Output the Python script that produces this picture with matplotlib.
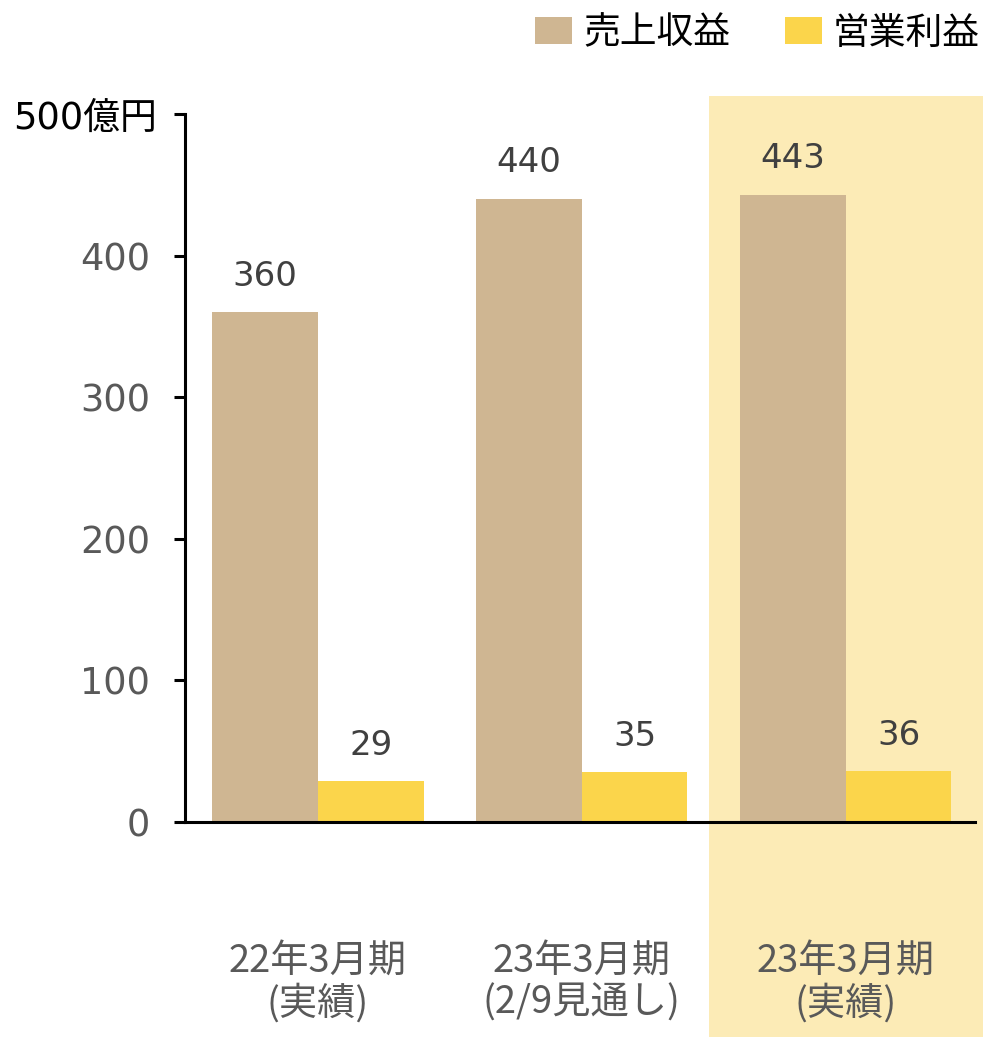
import matplotlib
matplotlib.use("Agg")
import matplotlib.pyplot as plt
import matplotlib.transforms as mtransforms
from matplotlib.patches import Rectangle
import numpy as np

plt.rcParams['font.family'] = ['Noto Sans CJK JP', 'DejaVu Sans']
NUM_FONT = ['DejaVu Sans', 'Noto Sans CJK JP']

periods = ["22年3月期\n(実績)", "23年3月期\n(2/9見通し)", "23年3月期\n(実績)"]
revenue = [360, 440, 443]
op_income = [29, 35, 36]
series_names = ["売上収益", "営業利益"]
yticks = [0, 100, 200, 300, 400, 500]
ytick_labels = ["0", "100", "200", "300", "400", "500億円"]

brown = "#CFB692"
yellow = "#FBD54B"
highlight = "#FCEBB6"
gray = "#595959"
dark = "#404040"

fig = plt.figure(figsize=(9.83, 10.37), dpi=100)
ax = fig.add_axes([0.1882, 0.2073, 0.8037, 0.6828])

x = np.arange(len(periods))
w = 0.4
b1 = ax.bar(x - w / 2, revenue, w, color=brown, label=series_names[0], zorder=2)
b2 = ax.bar(x + w / 2, op_income, w, color=yellow, label=series_names[1], zorder=2)

for bars, vals in ((b1, revenue), (b2, op_income)):
    for bar, v in zip(bars, vals):
        ax.annotate(str(v), (bar.get_x() + bar.get_width() / 2, v),
                    xytext=(0, 14), textcoords="offset points",
                    ha="center", va="bottom", fontsize=24.5, color=dark,
                    family=NUM_FONT)

# shaded band behind the latest actual results, running off the figure edge
trans = mtransforms.blended_transform_factory(ax.transData, fig.transFigure)
band = Rectangle((1.48, 0), 2.0, 1 - 96 / 1037, transform=trans,
                 facecolor=highlight, edgecolor="none", zorder=-1, clip_on=False)
fig.patches.append(band)
ax.set_facecolor("none")

ax.set_xlim(-0.504, 2.49)
ax.set_ylim(0, 500)
ax.set_yticks(yticks)
ax.set_yticklabels(ytick_labels, fontsize=26.5, color=gray, family=NUM_FONT)
ax.tick_params(axis="y", length=8, width=2.2, pad=17)

# unit label on the top tick: black and nudged a little toward the axis
top_label = ax.get_yticklabels()[-1]
top_label.set_color("black")
top_label.set_transform(top_label.get_transform()
                        + mtransforms.ScaledTranslation(0.07, 0, fig.dpi_scale_trans))

ax.set_xticks(x)
ax.set_xticklabels(periods, fontsize=27.5, color=gray, linespacing=1.1)
ax.tick_params(axis="x", length=0, pad=86)

for s in ("top", "right"):
    ax.spines[s].set_visible(False)
ax.spines["left"].set_linewidth(2.2)
ax.spines["bottom"].set_linewidth(2.2)

fig.legend(handles=[b1, b2], loc="upper right", bbox_to_anchor=(0.997, 0.987),
           ncol=2, frameon=False, fontsize=26.5, handlelength=1.0,
           handleheight=0.72, handletextpad=0.3, columnspacing=1.5,
           borderpad=0, borderaxespad=0)

fig.savefig("out.png", dpi=100)
